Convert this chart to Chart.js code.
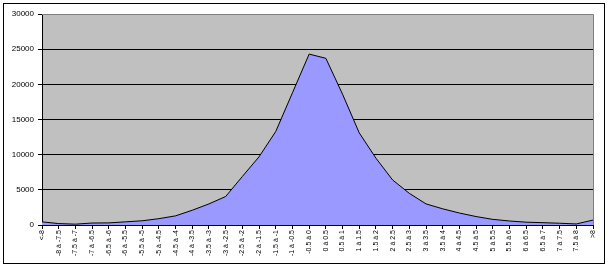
<!DOCTYPE html>
<html>
<head>
<meta charset="utf-8">
<script src="https://cdn.jsdelivr.net/npm/chart.js@4/dist/chart.umd.min.js"></script>
<style>
  body { margin: 0; background: #fff; }
</style>
</head>
<body>
<canvas id="myAreaChart" width="610" height="267"></canvas>
<script>
var categories = ['<-8', '-8 à -7.5', '-7.5 à -7', '-7 à -6.5', '-6.5 à -6', '-6 à -5.5', '-5.5 à -5',
    '-5 à -4.5', '-4.5 à -4', '-4 à -3.5', '-3.5 à -3', '-3 à -2.5', '-2.5 à -2', '-2 à -1.5',
    '-1.5 à -1', '-1 à -0.5', '-0.5 à 0', '0 à 0.5', '0.5 à 1', '1 à 1.5', '1.5 à 2', '2 à 2.5',
    '2.5 à 3', '3 à 3.5', '3.5 à 4', '4 à 4.5', '4.5 à 5', '5 à 5.5', '5.5 à 6', '6 à 6.5',
    '6.5 à 7', '7 à 7.5', '7.5 à 8', '>8'];
var counts = [450, 200, 120, 280, 300, 450, 600, 900, 1300, 2100, 3000, 4050, 6900, 9700,
    13300, 18800, 24300, 23700, 18600, 13100, 9500, 6400, 4500, 3000, 2300, 1700, 1200,
    800, 570, 400, 330, 250, 150, 700];
var yTicks = [0, 5000, 10000, 15000, 20000, 25000, 30000];

// grey plot area + frame round the whole picture
var framePlugin = {
    id: 'frame',
    beforeDraw: function (chart) {
        var c = chart.ctx, a = chart.chartArea;
        c.save();
        c.fillStyle = '#C0C0C0';
        c.fillRect(a.left, a.top, a.right - a.left, a.bottom - a.top);
        c.restore();
    },
    afterDatasetsDraw: function (chart) {
        var c = chart.ctx, a = chart.chartArea;
        c.save();
        c.strokeStyle = '#808080';
        c.lineWidth = 1;
        c.beginPath();
        c.moveTo(a.left, Math.round(a.top) + 0.5);
        c.lineTo(Math.round(a.right) + 0.5, Math.round(a.top) + 0.5);
        c.lineTo(Math.round(a.right) + 0.5, a.bottom);
        c.stroke();
        c.strokeStyle = '#000';
        c.strokeRect(3.5, 3.5, 601, 260);
        c.restore();
    }
};

var ctx = document.getElementById('myAreaChart').getContext('2d');
var chart = new Chart(ctx, {
    type: 'line',
    data: {
        labels: categories,
        datasets: [{
            data: counts,
            fill: 'origin',
            backgroundColor: '#9999FF',
            borderColor: '#000000',
            borderWidth: 1,
            pointRadius: 0,
            tension: 0
        }]
    },
    options: {
        responsive: false,
        animation: false,
        devicePixelRatio: 1,
        layout: { padding: { left: 4, top: 14, right: 17, bottom: 4 } },
        plugins: { legend: { display: false }, tooltip: { enabled: false } },
        scales: {
            x: {
                offset: false,
                afterFit: function (s) { s.height = 38; },
                grid: { drawOnChartArea: false, drawTicks: true, tickLength: 4, color: '#000', tickColor: '#000' },
                border: { color: '#000' },
                ticks: {
                    autoSkip: false, minRotation: 90, maxRotation: 90, padding: 1,
                    color: '#000', font: { family: 'Liberation Sans', size: 7 }
                }
            },
            y: {
                min: 0,
                max: 30000,
                afterFit: function (s) { s.width = 38; },
                afterBuildTicks: function (s) { s.ticks = yTicks.map(function (v) { return { value: v }; }); },
                grid: {
                    color: function (c) { return c.tick && c.tick.value === 30000 ? 'rgba(0,0,0,0)' : '#000'; },
                    tickColor: '#000',
                    tickLength: 4
                },
                border: { color: '#000' },
                ticks: {
                    padding: 4,
                    color: '#000',
                    font: { family: 'Liberation Sans', size: 8 },
                    callback: function (v) { return String(v); }
                }
            }
        }
    },
    plugins: [framePlugin]
});
</script>
</body>
</html>
